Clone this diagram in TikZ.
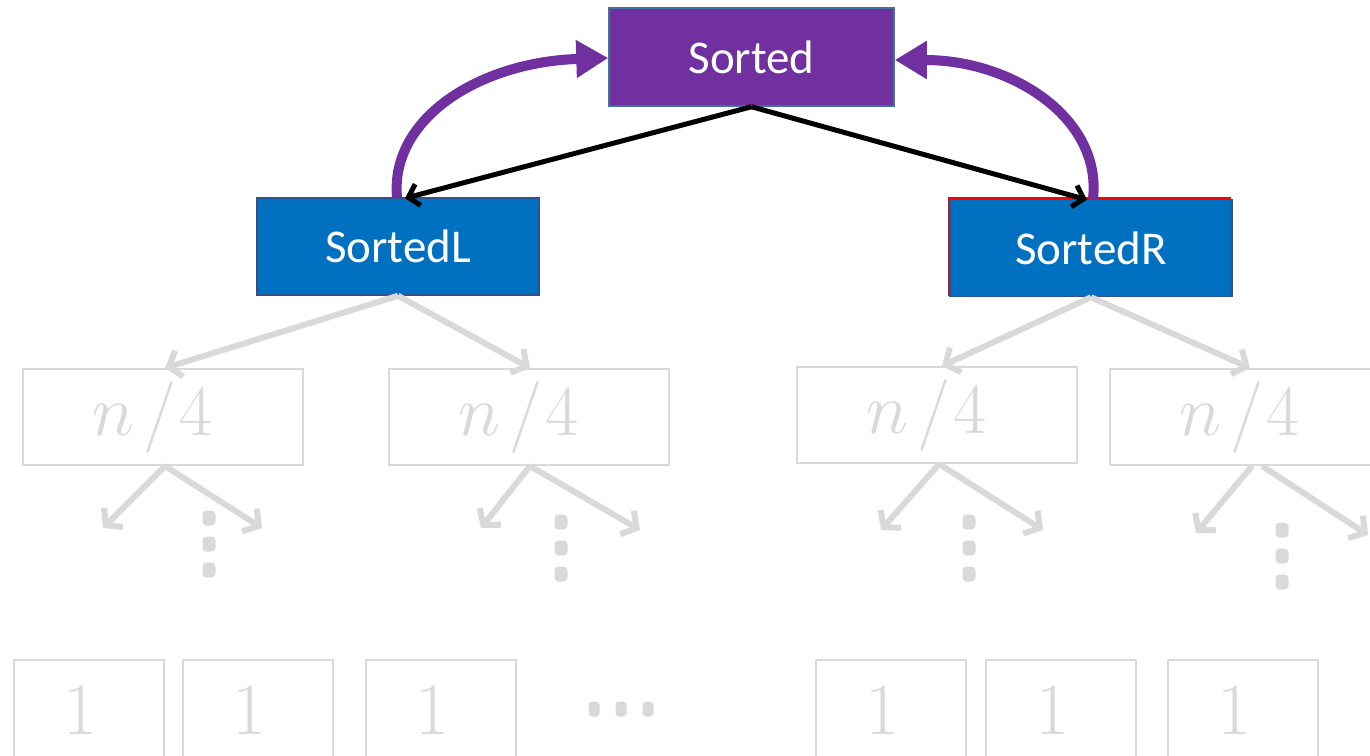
\RequirePackage{fix-cm}
\documentclass[tikz,border=0pt]{standalone}
\usepackage{fontspec}
\setsansfont{Carlito}
\usetikzlibrary{arrows.meta,calc}
\definecolor{sortpurple}{HTML}{7030A0}
\definecolor{sortblue}{HTML}{0070C0}
\definecolor{edgeblue}{HTML}{2F528F}
\definecolor{edgeslate}{HTML}{41719C}
\definecolor{faint}{HTML}{D9D9D9}
\newcommand{\quarter}{$n\mkern2mu/\mkern1mu4$\kern20pt}
\newcommand{\single}{1\kern17pt}
\begin{document}
\begin{tikzpicture}[x=1pt,y=-1pt,
  merged/.style={draw=edgeblue, line width=1.5pt, minimum width=282pt, minimum height=97pt,
    inner sep=0pt, text=white, font=\sffamily\fontsize{47}{50}\selectfont},
  half/.style={draw=faint, line width=2pt, minimum width=280pt, minimum height=96pt,
    inner sep=0pt, text=faint, font=\fontsize{72}{74}\selectfont},
  leaf/.style={draw=faint, line width=2pt, minimum width=150pt, minimum height=100pt,
    inner sep=0pt, text=faint, font=\fontsize{74}{76}\selectfont},
  callarrow/.style={draw=black, line width=5pt, -{Straight Barb[length=10pt,width=22pt]}},
  splitarrow/.style={draw=faint, line width=6pt, -{Straight Barb[length=11pt,width=27pt]}},
  returnarrow/.style={draw=sortpurple, line width=10pt, -{Triangle[length=32pt,width=36pt]}},
  dot/.style={fill=faint, rounded corners=4pt}
]
\useasboundingbox (0,0) rectangle (1370,755);

% merged results
\node[merged, fill=sortpurple, draw=edgeslate, minimum width=285pt, minimum height=98pt] (S) at (751.5,57) {Sorted};
\node[merged, fill=sortblue] (SL) at (398,246.5) {SortedL};
\draw[red, line width=2pt] (949,198) rectangle (1230,295);
\node[merged, fill=sortblue] (SR) at (1091,248) {SortedR};

% recursive calls
\draw[callarrow] (S.south) -- ([xshift=7pt,yshift=-1pt]SL.north);
\draw[callarrow] (S.south) -- ([xshift=-4pt,yshift=-1pt]SR.north);

% results returned upward
\draw[returnarrow] ([xshift=-1pt]SL.north) .. controls (390,118) and (480,62) .. ([yshift=-1pt]S.west);
\draw[returnarrow] ([xshift=2pt]SR.north) .. controls (1102,118) and (1012,60) .. ([yshift=-3pt]S.east);

% quarter-size subproblems
\node[half] (Q1) at (163,417) {\quarter};
\node[half] (Q2) at (529,417) {\quarter};
\node[half] (Q3) at (937,415) {\quarter};
\node[half] (Q4) at (1250,417) {\quarter};

\draw[splitarrow] (SL.south) -- ([xshift=2pt]Q1.north);
\draw[splitarrow] (SL.south) -- ([xshift=1pt]Q2.north);
\draw[splitarrow] (SR.south) -- ([xshift=5pt]Q3.north);
\draw[splitarrow] (SR.south) -- (Q4.north);

% further splits
\coordinate (a1) at (103,528); \coordinate (b1) at (262,528);
\coordinate (a2) at (481,528); \coordinate (b2) at (640,530);
\coordinate (a3) at (881,530); \coordinate (b3) at (1043,530);
\coordinate (a4) at (1196,533); \coordinate (b4) at (1368,535);
\draw[splitarrow] ([xshift=2pt]Q1.south) -- (a1);
\draw[splitarrow] ([xshift=2pt]Q1.south) -- (b1);
\draw[splitarrow] ([xshift=1pt]Q2.south) -- (a2);
\draw[splitarrow] ([xshift=1pt]Q2.south) -- (b2);
\draw[splitarrow] ([xshift=2pt]Q3.south) -- (a3);
\draw[splitarrow] ([xshift=2pt]Q3.south) -- (b3);
\draw[splitarrow] ([xshift=2pt]Q4.south) -- (a4);
\draw[splitarrow] ([xshift=12pt]Q4.south) -- (b4);

% vertical ellipses
\foreach \x/\y in {209/518, 561/522, 969/522, 1282/530}{
  \foreach \k in {0,1,2}{
    \fill[dot] (\x-6.5,\y+\k*26-7.5) rectangle (\x+6.5,\y+\k*26+7.5);
  }
}

% single-element leaves
\node[leaf] (L1) at (89,710) {\single};
\node[leaf] (L2) at (257.5,710) {\single};
\node[leaf] (L3) at (441,710) {\single};
\node[leaf] (L4) at (891,710) {\single};
\node[leaf] (L5) at (1061,710) {\single};
\node[leaf] (L6) at (1243,710) {\single};

% horizontal ellipsis
\foreach \x in {594,621,648}{
  \fill[dot, rounded corners=3.5pt] (\x-5.5,701.5) rectangle (\x+5.5,716.5);
}
\end{tikzpicture}
\end{document}
